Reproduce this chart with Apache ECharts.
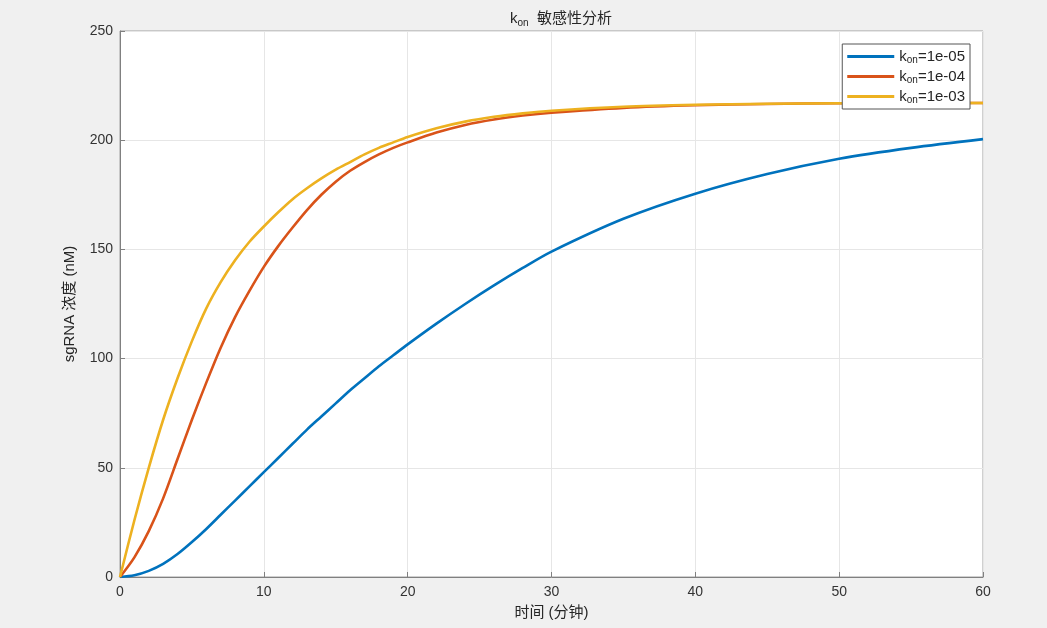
<!DOCTYPE html>
<html>
<head>
<meta charset="utf-8">
<script src="https://cdn.jsdelivr.net/npm/echarts@6/dist/echarts.min.js"></script>
<style>
html,body{margin:0;padding:0;background:#f0f0f0;}
#main{width:1047px;height:628px;}
</style>
</head>
<body>
<div id="main"></div>
<script>
const time = [0,1,2,3,4,5,6,7,8,9,10,11,12,13,14,15,16,17,18,19,20,22,24,26,28,30,35,40,45,50,55,60];
const kon5 = [0,0.8,2.8,6,10.5,16,22,28.5,35,41.5,48,54.5,61,67.5,73.5,79.5,85.5,91,96.5,101.5,106.5,116,125,133.5,141.5,149,164,175.5,184.5,191.5,196.5,200.5];
const kon4 = [0,9,21,36,54,72,89,105,119,131,142,151.5,160,168,175,181,186,190,193.5,196.5,199,203.5,207,209.5,211.3,212.6,214.8,216,216.6,216.9,217,217];
const kon3 = [0,26,50,72,91,108,123,135,145,153.5,160.5,167,173,178,182.5,186.5,190,193.5,196.5,199,201.5,205.5,208.5,210.7,212.3,213.5,215.3,216.2,216.7,216.9,217,217];
const seriesNames = ['1e-05','1e-04','1e-03'];
const xTicks = [0,10,20,30,40,50,60];
const yTicks = [0,50,100,150,200,250];

const FONT = '"Liberation Sans", "Noto Sans CJK SC", sans-serif';
const colors = ['#0072BD','#D95319','#EDB120'];
const allData = [kon5, kon4, kon3];

const chart = echarts.init(document.getElementById('main'));
chart.setOption({
  backgroundColor: '#f0f0f0',
  animation: false,
  title: {
    text: '{k|k}{s|on}{t|  敏感性分析}',
    left: 556, top: 5, textAlign: 'center',
    textStyle: {
      fontFamily: FONT, fontWeight: 'normal',
      rich: {
        k: {fontSize: 15, color: '#262626', fontFamily: FONT, fontWeight: 'normal'},
        s: {fontSize: 10, color: '#262626', verticalAlign: 'bottom', padding: [8,0,0,0], fontFamily: FONT, fontWeight: 'normal'},
        t: {fontSize: 15, color: '#262626', fontFamily: FONT, fontWeight: 'normal'}
      }
    }
  },
  grid: {left: 120, right: 64, top: 31, bottom: 51, show: true, backgroundColor: '#ffffff', borderColor: '#a0a0a0', borderWidth: 1},
  legend: {
    right: 77, top: 44, orient: 'vertical',
    backgroundColor: '#ffffff', borderColor: '#555', borderWidth: 1,
    padding: [5, 5, 4, 5], itemGap: 4,
    icon: 'rect', itemWidth: 47, itemHeight: 3,
    data: seriesNames.map(n => 'kon=' + n),
    formatter: function (name) { return '{k|k}{s|on}{t|=' + name.replace('kon=','') + '}'; },
    textStyle: {
      fontFamily: FONT, color: '#262626',
      rich: {
        k: {fontSize: 15, fontFamily: FONT, color: '#262626'},
        s: {fontSize: 10, fontFamily: FONT, color: '#262626', verticalAlign: 'bottom', padding: [7,0,0,0]},
        t: {fontSize: 15, fontFamily: FONT, color: '#262626'}
      }
    }
  },
  xAxis: {
    type: 'value', min: 0, max: 60, interval: 10,
    name: '时间 (分钟)', nameLocation: 'middle', nameGap: 28,
    nameTextStyle: {fontFamily: FONT, fontSize: 15, color: '#262626'},
    axisLine: {show: true, lineStyle: {color: '#808080', width: 1}},
    axisTick: {show: true, inside: true, length: 5, lineStyle: {color: '#808080'}},
    axisLabel: {fontFamily: FONT, fontSize: 14, color: '#333333', margin: 8,
      formatter: v => xTicks.includes(v) ? String(v) : ''},
    splitLine: {show: true, lineStyle: {color: '#e6e6e6', width: 1}}
  },
  yAxis: {
    type: 'value', min: 0, max: 250, interval: 50,
    name: 'sgRNA 浓度 (nM)', nameLocation: 'middle', nameGap: 43,
    nameTextStyle: {fontFamily: FONT, fontSize: 15, color: '#262626'},
    axisLine: {show: true, lineStyle: {color: '#808080', width: 1}},
    axisTick: {show: true, inside: true, length: 5, lineStyle: {color: '#808080'}},
    axisLabel: {fontFamily: FONT, fontSize: 14, color: '#333333', margin: 7,
      formatter: v => yTicks.includes(v) ? String(v) : ''},
    splitLine: {show: true, lineStyle: {color: '#e6e6e6', width: 1}}
  },
  series: allData.map((arr, i) => ({
    name: 'kon=' + seriesNames[i],
    type: 'line',
    smooth: 0.3,
    symbol: 'none',
    color: colors[i],
    lineStyle: {width: 2.6, color: colors[i]},
    data: time.map((t, j) => [t, arr[j]])
  }))
});
</script>
</body>
</html>
